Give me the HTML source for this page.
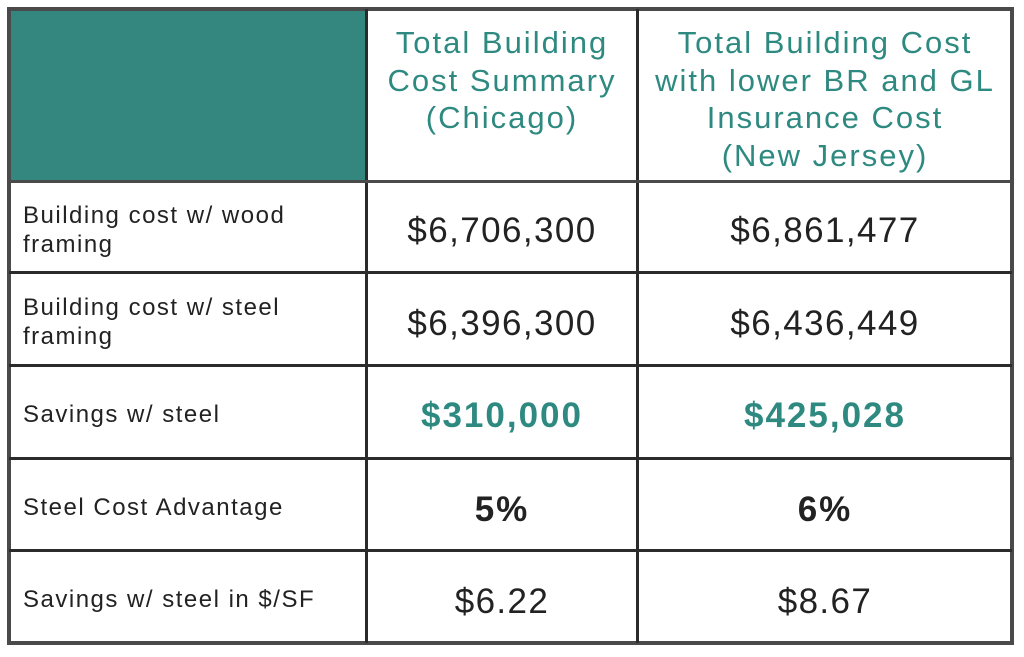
<!DOCTYPE html>
<html><head><meta charset="utf-8"><style>
body{margin:0;width:1024px;height:657px;background:#fff;position:relative;overflow:hidden;font-family:"Liberation Sans",sans-serif;}
.a{position:absolute;}
.h{background:#2b2b2b;}
.t{position:absolute;text-align:center;color:#2e8a80;font-size:31px;line-height:37.5px;letter-spacing:2px;}
.l{position:absolute;left:23px;font-size:24px;line-height:29px;color:#222;letter-spacing:1.5px;}
.v{position:absolute;text-align:center;font-size:35px;color:#222;letter-spacing:1.4px;}
.b{font-weight:bold;letter-spacing:2px;}
.g{color:#2e8a80;}
</style></head><body>
<div class="a" style="left:11px;top:11px;width:355px;height:170px;background:#33877f"></div>
<div class="a" style="left:7px;top:7px;width:1007px;height:638px;border:4px solid #4a4a4a;box-sizing:border-box"></div>
<div class="a h" style="left:365px;top:9px;width:3px;height:634px"></div>
<div class="a h" style="left:636px;top:9px;width:3px;height:634px"></div>
<div class="a" style="left:9px;top:180px;width:1003px;height:3px;background:#4a4a4a"></div>
<div class="a h" style="left:9px;top:271px;width:1003px;height:3px"></div>
<div class="a h" style="left:9px;top:364px;width:1003px;height:3px"></div>
<div class="a h" style="left:9px;top:457px;width:1003px;height:3px"></div>
<div class="a h" style="left:9px;top:549px;width:1003px;height:3px"></div>

<div class="t" style="left:368px;width:268px;top:24px">Total Building<br>Cost Summary<br>(Chicago)</div>
<div class="t" style="left:639px;width:372px;top:24px">Total Building Cost<br>with lower BR and GL<br>Insurance Cost<br>(New Jersey)</div>

<div class="l" style="top:201px">Building cost w/ wood<br>framing</div>
<div class="l" style="top:293px">Building cost w/ steel<br>framing</div>
<div class="l" style="top:400px">Savings w/ steel</div>
<div class="l" style="top:493px">Steel Cost Advantage</div>
<div class="l" style="top:585px">Savings w/ steel in $/SF</div>

<div class="v" style="left:368px;width:268px;top:211px">$6,706,300</div>
<div class="v" style="left:639px;width:372px;top:211px">$6,861,477</div>
<div class="v" style="left:368px;width:268px;top:304px">$6,396,300</div>
<div class="v" style="left:639px;width:372px;top:304px">$6,436,449</div>
<div class="v b g" style="left:368px;width:268px;top:396px">$310,000</div>
<div class="v b g" style="left:639px;width:372px;top:396px">$425,028</div>
<div class="v b" style="left:368px;width:268px;top:490px">5%</div>
<div class="v b" style="left:639px;width:372px;top:490px">6%</div>
<div class="v" style="left:368px;width:268px;top:582px">$6.22</div>
<div class="v" style="left:639px;width:372px;top:582px">$8.67</div>
</body></html>
